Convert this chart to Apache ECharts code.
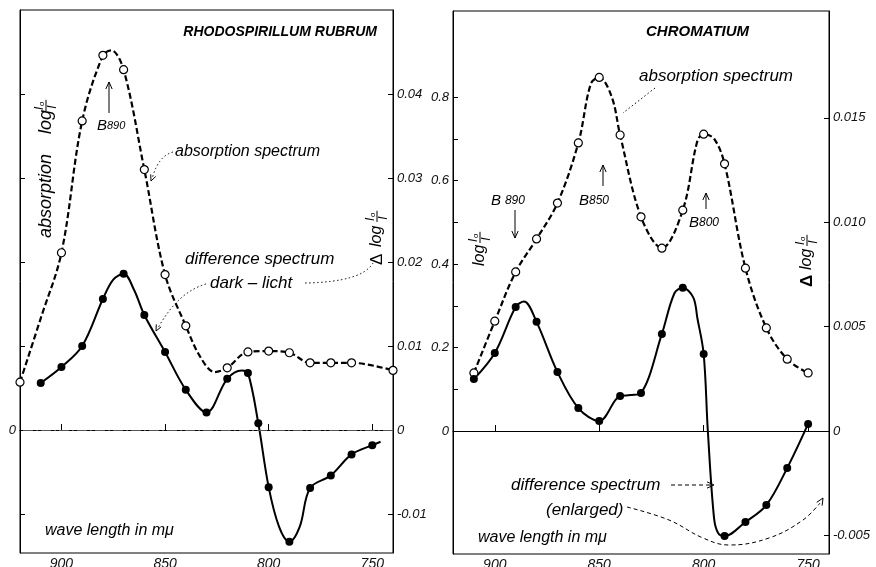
<!DOCTYPE html>
<html><head><meta charset="utf-8">
<script src="https://cdn.jsdelivr.net/npm/echarts@6/dist/echarts.min.js"></script>
<style>html,body{margin:0;padding:0;background:#fff;overflow:hidden}#c{width:876px;height:567px}</style>
</head><body><div id="c"></div>
<script>
// ---------- DATA ----------
// Rhodospirillum rubrum: absorption spectrum (open circles), Δlog scale units
const RR_ABS_WL  = [920, 900, 890, 880, 870, 860, 850, 840, 820, 810, 800, 790, 780, 770, 760, 740];
const RR_ABS     = [0.0057, 0.0211, 0.0368, 0.0446, 0.0429, 0.0310, 0.0185, 0.0124, 0.0074, 0.0093, 0.0094, 0.0092, 0.0080, 0.0080, 0.0080, 0.0071];
// extra points (no marker)
const RR_ABS_CURVE_WL = [910, 876, 833, 826];
const RR_ABS_CURVE    = [0.0133, 0.0452, 0.0087, 0.0069];
// Rhodospirillum rubrum: difference spectrum dark - light (filled dots)
const RR_DIFF_WL = [910, 900, 890, 880, 870, 860, 850, 840, 830, 820, 810, 805, 800, 790, 780, 770, 760, 750];
const RR_DIFF    = [0.0056, 0.0075, 0.0100, 0.0156, 0.0186, 0.0137, 0.0093, 0.0048, 0.0021, 0.0061, 0.0068, 0.0008, -0.0068, -0.0133, -0.0069, -0.0054, -0.0029, -0.0018];
const RR_DIFF_CURVE_WL = [875, 865, 813, 795, 785, 746];
const RR_DIFF_CURVE    = [0.0179, 0.0167, 0.0071, -0.0115, -0.0115, -0.0014];

// Chromatium
const CH_WL   = [910, 900, 890, 880, 870, 860, 850, 840, 830, 820, 810, 800, 790, 780, 770, 760, 750];
const CH_ABS  = [0.139, 0.263, 0.381, 0.460, 0.546, 0.690, 0.847, 0.709, 0.513, 0.438, 0.529, 0.711, 0.640, 0.390, 0.247, 0.172, 0.139];
const CH_ABS_CURVE_WL = [854, 844, 803, 795];
const CH_ABS_CURVE    = [0.832, 0.800, 0.695, 0.700];
const CH_DIFF = [0.00249, 0.00374, 0.00594, 0.00523, 0.00283, 0.00110, 0.00048, 0.00168, 0.00182, 0.00465, 0.00686, 0.00369, -0.00503, -0.00436, -0.00355, -0.00177, 0.00034];
const CH_DIFF_CURVE_WL = [886, 835, 814, 805, 803, 798, 795, 793];
const CH_DIFF_CURVE    = [0.0062, 0.00172, 0.0066, 0.0064, 0.0054, 0.0, -0.0042, -0.0049];

// axis ticks / labels
const X_TICKS = [900, 850, 800, 750];
const RR_TICKS = [-0.01, 0, 0.01, 0.02, 0.03, 0.04];
const CH_LEFT_TICKS = [0.1, 0.2, 0.3, 0.4, 0.5, 0.6, 0.7, 0.8];
const CH_LEFT_LABELS = [0, 0.2, 0.4, 0.6, 0.8];
const CH_RIGHT_TICKS = [-0.005, 0, 0.005, 0.010, 0.015];

// ---------- helpers ----------
const FONT = 'Liberation Sans';
const zip = (a, b) => a.map((v, i) => [v, b[i]]);
const merged = (wa, va, wb, vb) => zip(wa, va).concat(zip(wb, vb)).sort((p, q) => q[0] - p[0]);

function xAx(gi) {
  return {
    type: 'value', gridIndex: gi, min: 740, max: 920, inverse: true,
    axisLine: { show: true, lineStyle: { color: '#000', width: 1 } },
    axisTick: { show: true, inside: true, length: 6, customValues: X_TICKS, lineStyle: { color: '#000' } },
    axisLabel: { customValues: X_TICKS, margin: 4, fontStyle: 'italic', fontFamily: FONT, fontSize: 14, color: '#111' },
    splitLine: { show: false }
  };
}
function yAx(gi, pos, min, max, ticks, labels, fmt) {
  return {
    type: 'value', gridIndex: gi, position: pos, min: min, max: max,
    axisLine: { show: true, lineStyle: { color: '#000', width: 1 } },
    axisTick: { show: true, inside: true, length: 5, customValues: ticks, lineStyle: { color: '#000' } },
    axisLabel: { show: labels.length > 0, customValues: labels, formatter: fmt, margin: 4,
      fontStyle: 'italic', fontFamily: FONT, fontSize: 13, color: '#111' },
    splitLine: { show: false }
  };
}
function curve(xi, yi, data, dashed, zeroLine) {
  const s = {
    type: 'line', xAxisIndex: xi, yAxisIndex: yi, data: data, smooth: 0.35,
    symbol: 'none', silent: true, z: 2,
    lineStyle: { color: '#000', width: dashed ? 2.2 : 2, type: dashed ? [6, 3] : 'solid', opacity: 1 }
  };
  if (zeroLine) {
    s.markLine = { silent: true, symbol: 'none', label: { show: false },
      lineStyle: zeroLine, data: [{ yAxis: 0 }] };
  }
  return s;
}
function marks(xi, yi, data, open) {
  return {
    type: 'scatter', xAxisIndex: xi, yAxisIndex: yi, data: data, symbol: 'circle', symbolSize: 8,
    clip: false, z: 4, silent: true,
    itemStyle: open ? { color: '#fff', borderColor: '#000', borderWidth: 1.2, opacity: 1 } : { color: '#000', opacity: 1 }
  };
}
function T(x, y, text, size, extra) {
  return { type: 'text', x: x, y: y, silent: true,
    style: Object.assign({ text: text, fontSize: size, fontStyle: 'italic', fontFamily: FONT,
      fill: '#000', align: 'left', verticalAlign: 'middle' }, extra || {}) };
}
function L(x1, y1, x2, y2, dash) {
  return { type: 'line', silent: true, shape: { x1, y1, x2, y2 },
    style: { stroke: '#000', lineWidth: 1, lineDash: dash || null } };
}
function head(px, py, dx, dy, len) {
  const n = Math.hypot(dx, dy); dx /= n; dy /= n;
  const l = len || 7, w = l * 0.45;
  const bx = px - dx * l, by = py - dy * l;
  return { type: 'polyline', silent: true,
    shape: { points: [[bx - dy * w, by + dx * w], [px, py], [bx + dy * w, by - dx * w]] },
    style: { stroke: '#000', lineWidth: 1, fill: null } };
}
function frac(fx, s) {
  const st = (t, sz) => ({ text: t, fontSize: sz, fontStyle: 'italic', fontFamily: FONT, fill: '#000', align: 'left', verticalAlign: 'middle' });
  return [
    { type: 'text', x: fx, y: -s * 0.5, style: st('I', s) },
    { type: 'text', x: fx + s * 0.33, y: -s * 0.35, style: st('o', s * 0.65) },
    { type: 'line', shape: { x1: fx - 1, y1: 0, x2: fx + s * 0.85, y2: 0 }, style: { stroke: '#000', lineWidth: 1 } },
    { type: 'text', x: fx + s * 0.1, y: s * 0.55, style: st('I', s) }
  ];
}
function vlabel(x, y, parts) {
  return { type: 'group', x: x, y: y, rotation: Math.PI / 2, silent: true, children: parts };
}
const richB = (s) => ({ b: { fontSize: 15, fontStyle: 'italic', fontFamily: FONT }, s: { fontSize: s, fontStyle: 'italic', fontFamily: FONT } });

// ---------- chart ----------
const chart = echarts.init(document.getElementById('c'), null, { renderer: 'canvas' });
const option = {
  animation: false,
  backgroundColor: '#fff',
  grid: [
    { left: 20, top: 10, width: 373, height: 543, show: true, borderColor: '#000', borderWidth: 1, containLabel: false, outerBoundsMode: 'none' },
    { left: 453, top: 11, width: 376, height: 543, show: true, borderColor: '#000', borderWidth: 1, containLabel: false, outerBoundsMode: 'none' }
  ],
  xAxis: [xAx(0), xAx(1)],
  yAxis: [
    yAx(0, 'left', -0.01464, 0.05, RR_TICKS, [0], v => '0'),
    yAx(0, 'right', -0.01464, 0.05, RR_TICKS, RR_TICKS, v => v === 0 ? '0' : v.toFixed(2)),
    yAx(1, 'left', -0.2946, 1.006, CH_LEFT_TICKS.concat([0]), CH_LEFT_LABELS, v => v === 0 ? '0' : v.toFixed(1)),
    yAx(1, 'right', -0.005892, 0.02012, CH_RIGHT_TICKS, CH_RIGHT_TICKS, v => v === 0 ? '0' : v.toFixed(3))
  ],
  series: [
    curve(0, 1, merged(RR_DIFF_WL, RR_DIFF, RR_DIFF_CURVE_WL, RR_DIFF_CURVE), false,
      { color: '#555', width: 1, type: [10, 3, 2, 3] }),
    curve(0, 1, merged(RR_ABS_WL, RR_ABS, RR_ABS_CURVE_WL, RR_ABS_CURVE), true),
    marks(0, 1, zip(RR_ABS_WL, RR_ABS), true),
    marks(0, 1, zip(RR_DIFF_WL, RR_DIFF), false),
    curve(1, 3, merged(CH_WL, CH_DIFF, CH_DIFF_CURVE_WL, CH_DIFF_CURVE), false,
      { color: '#000', width: 1, type: 'solid' }),
    curve(1, 2, merged(CH_WL, CH_ABS, CH_ABS_CURVE_WL, CH_ABS_CURVE), true),
    marks(1, 2, zip(CH_WL, CH_ABS), true),
    marks(1, 3, zip(CH_WL, CH_DIFF), false)
  ],
  graphic: [
    // ----- left panel -----
    T(377, 32, 'RHODOSPIRILLUM RUBRUM', 14, { fontWeight: 'bold', align: 'right' }),
    T(175, 152, 'absorption spectrum', 16),
    { type: 'bezierCurve', silent: true, shape: { x1: 173, y1: 152, x2: 152, y2: 179, cpx1: 158, cpy1: 156 },
      style: { stroke: '#000', lineWidth: 1, lineDash: [1.5, 2.5], fill: null } },
    head(151, 181, -0.4, 1, 6),
    T(97, 126, '{b|B}{s|890}', 14, { rich: richB(11) }),
    L(109, 113, 109, 82), head(109, 82, 0, -1, 7),
    T(185, 259, 'difference spectrum', 17),
    T(210, 283, 'dark – licht', 17),
    { type: 'bezierCurve', silent: true, shape: { x1: 206, y1: 284, x2: 158, y2: 328, cpx1: 178, cpy1: 292 },
      style: { stroke: '#000', lineWidth: 1, lineDash: [1.5, 2.5], fill: null } },
    head(156, 331, -0.5, 1, 6),
    { type: 'bezierCurve', silent: true, shape: { x1: 305, y1: 283, x2: 373, y2: 263, cpx1: 362, cpy1: 282 },
      style: { stroke: '#000', lineWidth: 1, lineDash: [1.5, 2.5], fill: null } },
    vlabel(377, 265, [T(0, 0, 'Δ', 17, { fontStyle: 'normal' }), T(18, 0, 'log', 16)].concat(frac(44, 12))),
    vlabel(46, 238, [T(0, 0, 'absorption', 18), T(104, 0, 'log', 18)].concat(frac(128, 12))),
    T(45, 531, 'wave length in mμ', 16),
    // ----- right panel -----
    T(646, 32, 'CHROMATIUM', 15, { fontWeight: 'bold' }),
    T(639, 76, 'absorption spectrum', 17),
    L(655, 88, 623, 113, [1.5, 2.5]),
    T(491, 201, '{b|B} {s|890}', 14, { rich: richB(12) }),
    L(515, 210, 515, 238), head(515, 238, 0, 1, 7),
    T(579, 201, '{b|B}{s|850}', 14, { rich: richB(12) }),
    L(603, 186, 603, 165), head(603, 165, 0, -1, 7),
    T(689, 223, '{b|B}{s|800}', 14, { rich: richB(12) }),
    L(706, 209, 706, 193), head(706, 193, 0, -1, 7),
    vlabel(480, 266, [T(0, 0, 'log', 16)].concat(frac(24, 12))),
    vlabel(807, 287, [T(0, 0, 'Δ', 17, { fontWeight: 'bold', fontStyle: 'normal' }), T(17, 0, 'log', 16)].concat(frac(42, 12))),
    T(511, 485, 'difference spectrum', 17),
    L(671, 485, 711, 485, [4, 3]), head(714, 485, 1, 0, 7),
    T(546, 510, '(enlarged)', 17),
    { type: 'polyline', silent: true,
      shape: { points: [[627, 507], [669, 520], [703, 538], [729, 545], [769, 538], [803, 520], [820, 503]], smooth: 0.4 },
      style: { stroke: '#000', lineWidth: 1, lineDash: [4, 3], fill: null } },
    head(823, 498, 0.6, -1, 7),
    T(478, 538, 'wave length in mμ', 16)
  ]
};
chart.setOption(option);
</script></body></html>
